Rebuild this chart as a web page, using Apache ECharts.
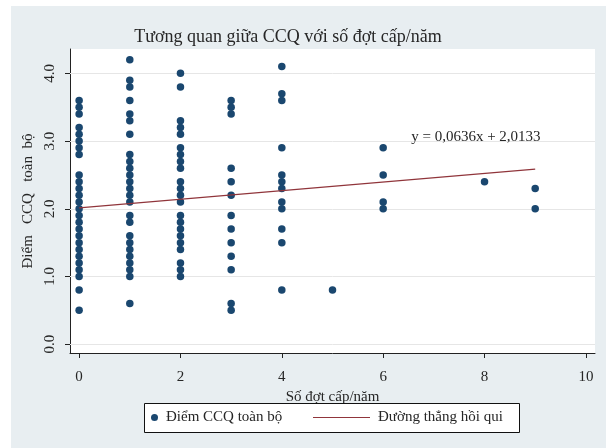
<!DOCTYPE html>
<html>
<head>
<meta charset="utf-8">
<script src="https://cdn.jsdelivr.net/npm/echarts@6/dist/echarts.min.js"></script>
<style>
html,body{margin:0;padding:0;background:#fff;}
#chart{width:606px;height:448px;}
</style>
</head>
<body>
<div id="chart"></div>
<script>
// Data
const titleText = "Tương quan giữa CCQ với số đợt cấp/năm";
const xAxisName = "Số đợt cấp/năm";
const yAxisName = "Điểm   CCQ   toàn  bộ";
const scatterName = "Điểm CCQ toàn bộ";
const lineName = "Đường thẳng hồi qui";
const equationText = "y = 0,0636x + 2,0133";

const xTicks = [0, 2, 4, 6, 8, 10];
const yTicks = [0, 1, 2, 3, 4];

const flareCounts = [0, 1, 2, 3, 4, 5, 6, 8, 9];
const scores0 = [3.6,3.5,3.4,3.2,3.1,3.0,2.9,2.8,2.5,2.4,2.3,2.2,2.1,2.0,1.9,1.8,1.7,1.6,1.5,1.4,1.3,1.2,1.1,1.0,0.8,0.5];
const scores1 = [4.2,3.9,3.8,3.6,3.4,3.3,3.1,2.8,2.7,2.6,2.5,2.4,2.3,2.2,2.1,1.9,1.8,1.6,1.5,1.4,1.3,1.2,1.1,1.0,0.6];
const scores2 = [4.0,3.8,3.3,3.2,3.1,2.9,2.8,2.7,2.6,2.4,2.3,2.2,2.1,1.9,1.8,1.7,1.6,1.5,1.4,1.2,1.1,1.0];
const scores3 = [3.6,3.5,3.4,2.6,2.4,2.2,1.9,1.7,1.5,1.3,1.1,0.6,0.5];
const scores4 = [4.1,3.7,3.6,2.9,2.5,2.4,2.3,2.1,2.0,1.7,1.5,0.8];
const scores5 = [0.8];
const scores6 = [2.9,2.5,2.1,2.0];
const scores8 = [2.4];
const scores9 = [2.3,2.0];

const regX = [0, 9];
const regY = [2.0133, 2.5857];
const equationPos = [7.83, 3.06];

const scoreGroups = [scores0, scores1, scores2, scores3, scores4, scores5, scores6, scores8, scores9];
const scatterData = [];
flareCounts.forEach((x, i) => scoreGroups[i].forEach(y => scatterData.push([x, y])));
const lineData = regX.map((x, i) => [x, regY[i]]);

const FONT = "Liberation Serif";
const TXT = "#262626";
const NAVY = "#1a476f";
const MAROON = "#90353b";

const chart = echarts.init(document.getElementById('chart'), null, {renderer: 'canvas'});
chart.setOption({
  backgroundColor: '#ffffff',
  animation: false,
  textStyle: {fontFamily: FONT},
  graphic: [
    {type: 'rect', z: -10, shape: {x: 11, y: 6, width: 595, height: 442}, style: {fill: '#e8eef1'}},
    {type: 'text', z: 5, x: 288, y: 37, style: {text: titleText, fontFamily: FONT, fontSize: 18, fill: TXT, textAlign: 'center', textVerticalAlign: 'middle'}},
    {type: 'rect', z: 1, shape: {x: 144.5, y: 403.5, width: 375, height: 29}, style: {fill: '#ffffff', stroke: '#111', lineWidth: 1}}
  ],
  grid: {left: 70, right: 11, top: 49, bottom: 95, show: true, backgroundColor: '#ffffff', borderWidth: 0},
  legend: [
    {data: [scatterName], left: 151, top: 410, padding: 0, itemWidth: 7, itemHeight: 7, z: 10,
     textStyle: {fontFamily: FONT, fontSize: 15, color: TXT, padding: [0, 0, 0, 3]}, icon: 'circle'},
    {data: [{name: lineName, icon: 'rect'}], left: 313, top: 410, padding: 0, itemWidth: 57, itemHeight: 1.2, z: 10,
     itemStyle: {color: MAROON},
     textStyle: {fontFamily: FONT, fontSize: 15, color: TXT, padding: [0, 0, 0, 3]}}
  ],
  xAxis: {
    type: 'value', min: -0.18, max: 10.18,
    name: xAxisName, nameLocation: 'middle', nameGap: 23,
    nameTextStyle: {fontFamily: FONT, fontSize: 15, color: TXT},
    axisLine: {show: true, onZero: false, lineStyle: {color: '#222', width: 1}},
    axisTick: {show: true, length: 5, customValues: xTicks, lineStyle: {color: '#222'}},
    axisLabel: {customValues: xTicks, margin: 17, fontFamily: FONT, fontSize: 15, color: TXT},
    splitLine: {show: false}
  },
  yAxis: {
    type: 'value', min: -0.13, max: 4.36,
    name: yAxisName, nameLocation: 'middle', nameGap: 25,
    nameTextStyle: {fontFamily: FONT, fontSize: 15, color: TXT},
    axisLine: {show: true, onZero: false, lineStyle: {color: '#222', width: 1}},
    axisTick: {show: true, length: 5, customValues: yTicks, lineStyle: {color: '#222'}},
    axisLabel: {customValues: yTicks, rotate: 90, margin: 12, fontFamily: FONT, fontSize: 15, color: TXT,
      formatter: v => v.toFixed(1)},
    splitLine: {show: false}
  },
  series: [
    {type: 'line', name: 'grid', data: [], z: 1, silent: true,
     markLine: {silent: true, symbol: 'none', label: {show: false},
       lineStyle: {color: '#e6e6e6', width: 1, type: 'solid'},
       data: yTicks.map(v => ({yAxis: v}))}},
    {type: 'scatter', name: scatterName, data: scatterData, symbol: 'circle', symbolSize: 7.5, z: 3, zlevel: 1,
     itemStyle: {color: NAVY, opacity: 1}},
    {type: 'line', name: lineName, data: lineData, symbol: 'none', z: 4, zlevel: 1,
     lineStyle: {color: MAROON, width: 1.2}, itemStyle: {color: MAROON},
     markPoint: {symbol: 'circle', symbolSize: 0, silent: true,
       label: {show: true, position: 'inside', formatter: equationText, fontFamily: FONT, fontSize: 15, color: TXT},
       data: [{coord: equationPos}]}}
  ]
});
</script>
</body>
</html>
